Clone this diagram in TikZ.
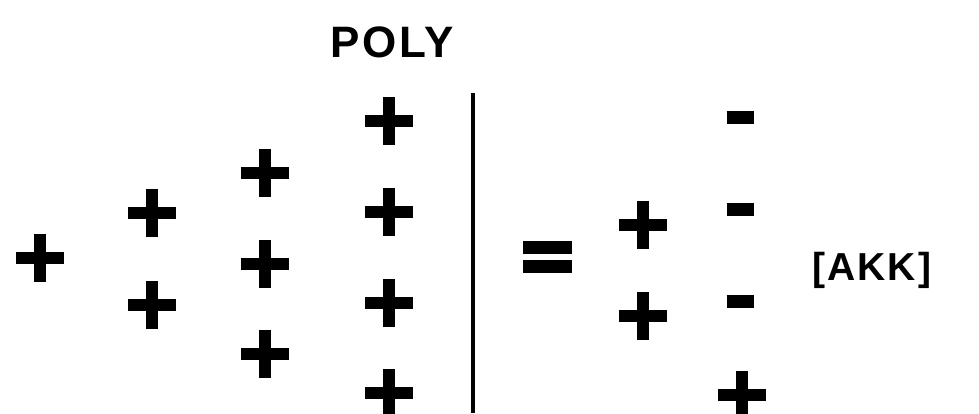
\documentclass[tikz,border=0pt]{standalone}
\usepackage{fontspec}
\setmainfont{Liberation Sans}
\begin{document}
\begin{tikzpicture}[x=1pt,y=-1pt,
  plusst/.style={line width=12pt,line cap=butt,black},
  minusst/.style={line width=13pt,line cap=butt,black},
  pics/plusmark/.style={code={\draw[plusst] (-24,0) -- (24,0) (0,-24) -- (0,24);}},
  pics/minusmark/.style={code={\draw[minusst] (-13.5,0) -- (13.5,0);}},
  lbl/.style={inner sep=0pt,anchor=base,font=\bfseries}]
\useasboundingbox (0,0) rectangle (979,413);
% left column pluses
\pic at (40,258) {plusmark};
\pic at (152,213) {plusmark};
\pic at (152,305) {plusmark};
\pic at (265,173) {plusmark};
\pic at (265,264) {plusmark};
\pic at (265,354) {plusmark};
\pic at (389,121) {plusmark};
\pic at (389,212) {plusmark};
\pic at (389,303) {plusmark};
\pic at (389,393) {plusmark};
% vertical bar
\coordinate (vtop) at (473,93);
\coordinate (vbot) at (473,413);
\draw[line width=4.5pt] (vtop) -- (vbot);
% equals sign
\draw[line width=13pt] (523,247) -- (572,247);
\draw[line width=13pt] (523,266) -- (572,266);
% right side
\pic at (643,225) {plusmark};
\pic at (643,316) {plusmark};
\pic at (740,117) {minusmark};
\pic at (740,209) {minusmark};
\pic at (740,301) {minusmark};
\pic at (742,395) {plusmark};
% labels
\node[lbl] (poly) at (392,57) {\fontsize{44}{44}\selectfont\addfontfeature{LetterSpace=6}POLY};
\node[lbl] (akk) at (872,280) {\fontsize{39}{39}\selectfont\addfontfeature{LetterSpace=5}[AKK]};
\end{tikzpicture}
\end{document}
